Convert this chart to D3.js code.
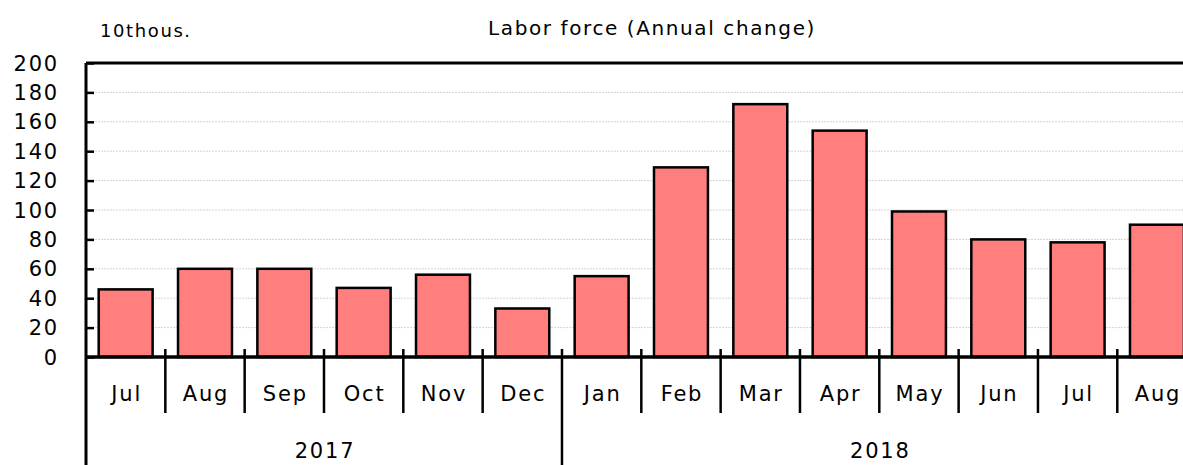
<!DOCTYPE html>
<html>
<head>
<meta charset="utf-8">
<script src="https://cdn.jsdelivr.net/npm/d3@7"></script>
<style>
  body { margin: 0; background: #fff; }
  svg { display: block; font-family: "DejaVu Sans", sans-serif; }
</style>
</head>
<body>
<svg id="chart" width="1183" height="465"></svg>
<script>
// data
const months = ['Jul', 'Aug', 'Sep', 'Oct', 'Nov', 'Dec', 'Jan', 'Feb', 'Mar', 'Apr', 'May', 'Jun', 'Jul', 'Aug'];
const years = [{ label: '2017', start: 0, end: 6 }, { label: '2018', start: 6, end: 14 }];
const values = [46, 60, 60, 47, 56, 33, 55, 129, 172, 154, 99, 80, 78, 90];
const yTicks = [0, 20, 40, 60, 80, 100, 120, 140, 160, 180, 200];

const svg = d3.select('#chart');

// plot box
const plotLeft = 86, plotTop = 63, plotBottom = 357;
const step = 79.33;
const plotRight = plotLeft + months.length * step;

const x = d3.scaleBand()
    .domain(d3.range(months.length))
    .range([plotLeft, plotRight])
    .paddingInner(0.32)
    .paddingOuter(0.16);

const y = d3.scaleLinear().domain([0, 200]).range([plotBottom, plotTop]);

// grid lines
svg.append('g')
    .selectAll('line')
    .data(yTicks.filter(d => d > 0 && d < 200))
    .join('line')
    .attr('x1', plotLeft).attr('x2', plotRight)
    .attr('y1', d => y(d)).attr('y2', d => y(d))
    .attr('stroke', '#d4d4d4')
    .attr('stroke-width', 1)
    .attr('stroke-dasharray', '2,1');

// bars
svg.append('g')
    .selectAll('rect')
    .data(values)
    .join('rect')
    .attr('x', (d, i) => x(i))
    .attr('y', d => y(d))
    .attr('width', x.bandwidth())
    .attr('height', d => y(0) - y(d))
    .attr('fill', '#ff7f7f')
    .attr('stroke', '#000')
    .attr('stroke-width', 2.5);

// y axis, ticks point inward
const yAxis = svg.append('g')
    .attr('transform', `translate(${plotLeft},0)`)
    .call(d3.axisRight(y).tickValues(yTicks).tickSize(8).tickSizeOuter(0).tickFormat(''));
yAxis.select('.domain').remove();
yAxis.selectAll('line').attr('stroke', '#000').attr('stroke-width', 2.5);

svg.append('g')
    .selectAll('text')
    .data(yTicks)
    .join('text')
    .attr('x', 59)
    .attr('y', d => y(d))
    .attr('dy', '0.36em')
    .attr('text-anchor', 'end')
    .attr('font-size', 21)
    .attr('letter-spacing', 1.8)
    .text(d => d);

// frame lines
svg.append('line')
    .attr('x1', plotLeft).attr('x2', plotRight)
    .attr('y1', plotTop).attr('y2', plotTop)
    .attr('stroke', '#000').attr('stroke-width', 3);
svg.append('line')
    .attr('x1', plotLeft).attr('x2', plotLeft)
    .attr('y1', plotTop).attr('y2', 465)
    .attr('stroke', '#000').attr('stroke-width', 3);
svg.append('line')
    .attr('x1', plotLeft).attr('x2', plotRight)
    .attr('y1', plotBottom).attr('y2', plotBottom)
    .attr('stroke', '#000').attr('stroke-width', 3.5);

// month separators
const boundaries = d3.range(1, months.length + 1);
const yearEdges = years.map(d => d.end);
svg.append('g')
    .selectAll('line')
    .data(boundaries)
    .join('line')
    .attr('x1', i => plotLeft + i * step).attr('x2', i => plotLeft + i * step)
    .attr('y1', plotBottom - 8)
    .attr('y2', i => yearEdges.includes(i) ? 465 : 413)
    .attr('stroke', '#000').attr('stroke-width', 2.5);

// month labels
svg.append('g')
    .selectAll('text')
    .data(months)
    .join('text')
    .attr('x', (d, i) => x(i) + x.bandwidth() / 2 + 1)
    .attr('y', 393)
    .attr('dy', '0.36em')
    .attr('text-anchor', 'middle')
    .attr('font-size', 21)
    .attr('letter-spacing', 1.8)
    .text(d => d);

// year labels
svg.append('g')
    .selectAll('text')
    .data(years)
    .join('text')
    .attr('x', d => plotLeft + (d.start + d.end) / 2 * step + 1)
    .attr('y', 450)
    .attr('dy', '0.36em')
    .attr('text-anchor', 'middle')
    .attr('font-size', 21)
    .attr('letter-spacing', 1.8)
    .text(d => d.label);

// title and unit
svg.append('text')
    .attr('x', 652).attr('y', 28)
    .attr('dy', '0.36em')
    .attr('text-anchor', 'middle')
    .attr('font-size', 20)
    .attr('letter-spacing', 1.6)
    .text('Labor force (Annual change)');

svg.append('text')
    .attr('x', 100).attr('y', 31)
    .attr('dy', '0.36em')
    .attr('font-size', 18)
    .attr('letter-spacing', 1.6)
    .text('10thous.');
</script>
</body>
</html>
